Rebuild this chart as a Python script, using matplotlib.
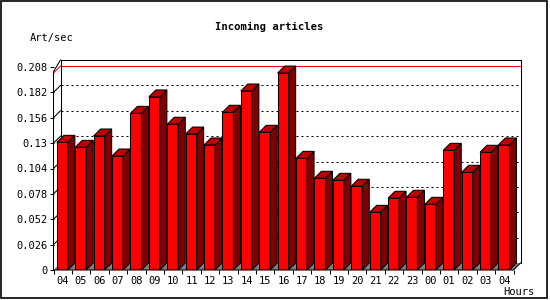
import numpy as np
import matplotlib
matplotlib.use("Agg")
import matplotlib.pyplot as plt
from matplotlib.patches import Polygon, Rectangle

# Incoming articles per hour (Art/sec)
hours = ["04", "05", "06", "07", "08", "09", "10", "11", "12", "13", "14", "15",
         "16", "17", "18", "19", "20", "21", "22", "23", "00", "01", "02", "03", "04"]
rates = [0.1308, 0.1257, 0.1373, 0.1168, 0.1605, 0.1773, 0.1493, 0.1393, 0.1281,
         0.1616, 0.1834, 0.1411, 0.2018, 0.1144, 0.0940, 0.0919, 0.0858, 0.0591,
         0.0735, 0.0745, 0.0673, 0.1226, 0.1001, 0.1206, 0.1281]
yticks = [0, 0.026, 0.052, 0.078, 0.104, 0.13, 0.156, 0.182, 0.208]
ytick_labels = ["0", "0.026", "0.052", "0.078", "0.104", "0.13", "0.156", "0.182", "0.208"]

FRONT = "#ff0000"
SIDE = "#800000"
TOP = "#c00000"
FLOOR = "#808080"

n = len(hours)
px_per_val = 203 / 0.208          # pixels per unit of value
slot = 18.4                       # pixels per bar slot
dx = 7 / slot                     # 3d depth in slot units
dy = 7 / px_per_val               # 3d depth in value units
ytop = 210 / px_per_val
bw = 0.6
b0 = 0.18

fig = plt.figure(figsize=(5.5, 3), dpi=100)
W, H = 550, 300
ax_w = (n + dx) * slot
ax = fig.add_axes([53.5 / W, 1 - 270 / H, ax_w / W, (270 - 60) / H])
ax.set_xlim(0, n + dx)
ax.set_ylim(0, ytop)
for s in ax.spines.values():
    s.set_visible(False)

lw = 0.75
mono = "DejaVu Sans Mono"

# floor
ax.add_patch(Polygon([(0, 0), (n, 0), (n + dx, dy), (dx, dy)], closed=True,
                     facecolor=FLOOR, edgecolor="none", zorder=1))

# back-wall grid lines and side-wall diagonals
for v in yticks[1:-1]:
    ax.plot([dx, n + dx], [v + dy, v + dy], color="black", lw=lw,
            dashes=(1.9, 2.9), zorder=1.5)
    ax.plot([0, dx], [v, v + dy], color="black", lw=lw, zorder=1.5)

# max line
vmax = max(rates)
ax.plot([dx, n + dx], [vmax + dy, vmax + dy], color="red", lw=lw, zorder=1.6)
ax.plot([0, dx], [vmax, vmax + dy], color="red", lw=lw, zorder=1.6)

# box frame
ax.plot([dx, n + dx, n + dx], [ytop, ytop, dy], color="black", lw=lw, zorder=1.7, clip_on=False)
ax.plot([dx, dx], [dy, ytop], color="black", lw=lw, zorder=1.7)
ax.plot([0, 0, dx], [0, vmax + dy * 0.2, ytop], color="black", lw=lw, zorder=5, clip_on=False)
ax.plot([0, n, n + dx], [0, 0, dy], color="black", lw=lw, zorder=5, clip_on=False)

# bars
for i, v in enumerate(rates):
    x0 = i + b0
    x1 = x0 + bw
    ax.add_patch(Rectangle((x0, 0), bw, v, facecolor=FRONT, edgecolor="black",
                           lw=lw, zorder=3))
    ax.add_patch(Polygon([(x1, 0), (x1 + dx, dy), (x1 + dx, v + dy), (x1, v)],
                         closed=True, facecolor=SIDE, edgecolor="black", lw=lw, zorder=3))
    ax.add_patch(Polygon([(x0, v), (x0 + dx, v + dy), (x1 + dx, v + dy), (x1, v)],
                         closed=True, facecolor=TOP, edgecolor="black", lw=lw, zorder=3))

# ticks
ax.set_yticks(yticks)
ax.set_yticklabels(ytick_labels, family=mono, fontsize=7.5)
ax.tick_params(axis="y", direction="out", length=3, width=lw, pad=1.5)
ax.set_xticks(np.arange(n + 1))
ax.set_xticklabels([])
ax.tick_params(axis="x", which="major", direction="out", length=3, width=lw)
ax.set_xticks(np.arange(n) + 0.5, minor=True)
ax.set_xticklabels(hours, minor=True, family=mono, fontsize=7.5)
ax.tick_params(axis="x", which="minor", length=0, pad=4)

fig.text(269 / W, 1 - 27 / H, "Incoming articles", family=mono, fontsize=7.6,
         fontweight="bold", ha="center", va="center")
fig.text(30 / W, 1 - 38 / H, "Art/sec", family=mono, fontsize=7.5, ha="left", va="center")
fig.text(519 / W, 1 - 292 / H, "Hours", family=mono, fontsize=7.5, ha="center", va="center")

# outer border
fig.add_artist(Rectangle((1 / W, 1 - 298 / H), 546 / W, 297 / H, transform=fig.transFigure,
                         fill=False, edgecolor="black", lw=1.2))

fig.savefig("out.png", dpi=100)
